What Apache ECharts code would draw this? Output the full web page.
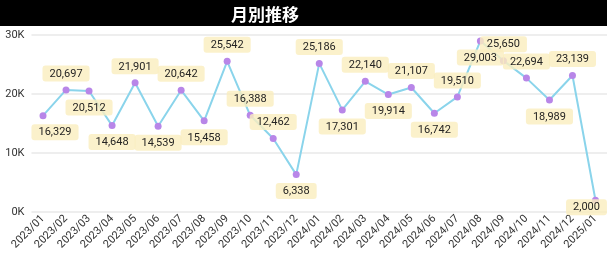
<!DOCTYPE html>
<html>
<head>
<meta charset="utf-8">
<script src="https://cdn.jsdelivr.net/npm/echarts@6/dist/echarts.min.js"></script>
<style>html,body{margin:0;padding:0;background:#fff}#c{width:607px;height:256px}</style>
</head>
<body>
<div id="c"></div>
<script>
const categories = ['2023/01','2023/02','2023/03','2023/04','2023/05','2023/06','2023/07','2023/08','2023/09','2023/10','2023/11','2023/12',
  '2024/01','2024/02','2024/03','2024/04','2024/05','2024/06','2024/07','2024/08','2024/09','2024/10','2024/11','2024/12','2025/01'];
const values = [16329,20697,20512,14648,21901,14539,20642,15458,25542,16388,12462,6338,
  25186,17301,22140,19914,21107,16742,19510,29003,25650,22694,18989,23139,2000];
const yTicks = [0,10000,20000,30000];
const labelSides = ['bottom','top','bottom','bottom','top','bottom','top','bottom','top','top','top','bottom',
  'top','bottom','top','bottom','top','bottom','top','bottom','top','top','bottom','top','inside'];
const labelShift = {0:[12,0], 24:[-9,7]};

const chart = echarts.init(document.getElementById('c'), null, {renderer:'canvas'});
const font = 'Roboto, "Noto Sans", sans-serif';
chart.setOption({
  animation:false,
  graphic:[{type:'rect', left:0, top:0, shape:{width:607,height:26}, style:{fill:'#000'}, z:-1}],
  title:{text:'月別推移', left:226, top:1, textStyle:{color:'#fff', fontSize:17, fontWeight:'bold', fontFamily:'"Noto Sans CJK JP", sans-serif'}},
  grid:{left:31.5, right:0, top:35, bottom:44},
  xAxis:{type:'category', data:categories, boundaryGap:true,
    axisLine:{show:false}, axisTick:{show:false},
    axisLabel:{rotate:45, interval:0, fontSize:11, color:'#333', margin:5, fontFamily:font}},
  yAxis:{type:'value', min:yTicks[0], max:yTicks[yTicks.length-1], interval:10000,
    axisLabel:{formatter:v=>(v/1000)+'K', fontSize:11, color:'#333', margin:7, fontFamily:font},
    splitLine:{lineStyle:{color:'#e8e8e8', width:1.5}}},
  series:[{type:'line', data:values.map((v,i)=>({value:v, label:{position:labelSides[i]}})),
    symbol:'circle', symbolSize:7, lineStyle:{color:'#8AD4EB', width:2},
    itemStyle:{color:'#B886E8'},
    label:{show:true, distance:5, formatter:p=>p.value.toLocaleString('en-US'), fontSize:11, color:'#252423', fontFamily:font,
      backgroundColor:'rgba(250,238,192,0.82)', borderRadius:3, padding:[3,7,2,7]},
    labelLayout:function(p){ const s = labelShift[p.dataIndex]; return s ? {dx:s[0], dy:s[1], hideOverlap:false} : {hideOverlap:false}; }
  }]
});
</script>
</body>
</html>
